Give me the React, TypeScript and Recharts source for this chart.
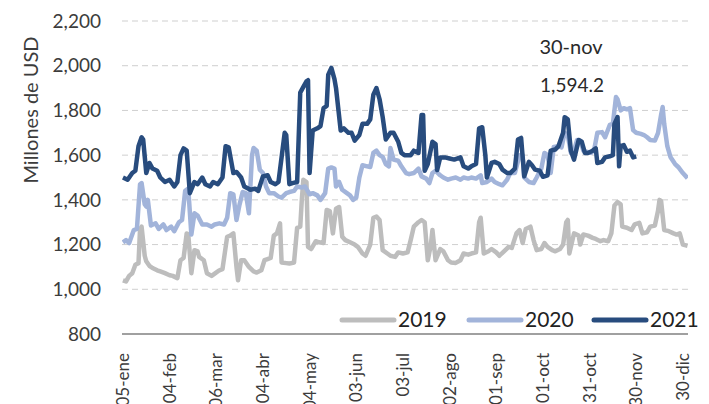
import { LineChart, Line, XAxis, YAxis, CartesianGrid } from 'recharts';

// eje x: días contados desde el 05-ene
const tickDays = [0, 30, 60, 90, 120, 150, 180, 210, 240, 270, 300, 330, 360];
const tickLabels = ['05-ene', '04-feb', '06-mar', '04-abr', '04-may', '03-jun', '03-jul', '02-ago', '01-sep', '01-oct', '31-oct', '30-nov', '30-dic'];
const yTicks = [800, 1000, 1200, 1400, 1600, 1800, 2000, 2200];

const days2019 = [0, 2, 4, 6, 8, 10, 11, 12, 14, 15, 17, 19, 22, 24, 27, 30, 32, 35, 37, 39, 41, 42, 44, 46, 48, 49, 52, 54, 57, 59, 62, 64, 67, 69, 71, 73, 74, 76, 78, 81, 84, 86, 89, 91, 93, 95, 97, 99, 101, 102, 105, 107, 110, 112, 114, 115, 116, 118, 119, 121, 124, 126, 129, 131, 133, 135, 137, 139, 141, 143, 146, 149, 151, 154, 156, 159, 161, 163, 165, 167, 170, 172, 175, 177, 180, 183, 185, 187, 190, 192, 194, 196, 198, 199, 201, 204, 206, 209, 211, 214, 217, 219, 222, 224, 227, 229, 230, 232, 235, 237, 240, 242, 245, 248, 250, 253, 255, 257, 259, 262, 264, 266, 269, 271, 273, 276, 278, 281, 283, 285, 286, 287, 290, 293, 294, 296, 299, 302, 304, 307, 309, 312, 314, 316, 318, 320, 321, 324, 327, 329, 332, 334, 337, 339, 342, 344, 345, 346, 348, 351, 354, 356, 358, 360, 363];
const values2019 = [1040, 1035, 1060, 1072, 1110, 1117, 1270, 1280, 1150, 1125, 1105, 1095, 1085, 1080, 1072, 1063, 1060, 1050, 1130, 1140, 1250, 1245, 1072, 1175, 1170, 1145, 1130, 1072, 1060, 1070, 1085, 1090, 1235, 1240, 1250, 1100, 1040, 1130, 1130, 1100, 1080, 1075, 1085, 1130, 1135, 1140, 1240, 1250, 1295, 1120, 1117, 1115, 1120, 1275, 1280, 1400, 1490, 1480, 1190, 1180, 1215, 1210, 1207, 1355, 1350, 1250, 1360, 1368, 1235, 1220, 1210, 1200, 1190, 1160, 1150, 1200, 1320, 1325, 1310, 1175, 1160, 1150, 1145, 1165, 1160, 1165, 1220, 1280, 1300, 1310, 1300, 1130, 1200, 1265, 1130, 1180, 1170, 1130, 1120, 1118, 1130, 1160, 1155, 1160, 1165, 1300, 1320, 1160, 1170, 1180, 1165, 1150, 1170, 1190, 1185, 1250, 1265, 1207, 1270, 1280, 1220, 1175, 1180, 1207, 1190, 1175, 1170, 1180, 1200, 1300, 1310, 1160, 1250, 1240, 1200, 1245, 1240, 1230, 1225, 1215, 1220, 1215, 1250, 1375, 1390, 1380, 1280, 1275, 1265, 1290, 1297, 1250, 1255, 1280, 1285, 1350, 1400, 1395, 1265, 1260, 1250, 1245, 1250, 1200, 1195];

const days2020 = [0, 2, 4, 7, 9, 11, 12, 14, 15, 16, 18, 21, 23, 26, 28, 31, 33, 36, 38, 40, 42, 44, 46, 48, 51, 54, 57, 59, 62, 65, 67, 69, 71, 73, 75, 77, 79, 81, 83, 84, 86, 88, 90, 92, 94, 97, 100, 102, 105, 107, 110, 112, 115, 117, 120, 122, 125, 127, 130, 132, 134, 136, 137, 139, 141, 144, 146, 148, 150, 152, 154, 157, 159, 161, 163, 165, 167, 169, 171, 172, 174, 177, 179, 182, 184, 187, 190, 192, 195, 197, 199, 201, 204, 206, 209, 211, 214, 217, 219, 222, 224, 227, 230, 231, 234, 237, 239, 242, 244, 247, 249, 252, 255, 257, 258, 261, 264, 266, 269, 271, 273, 275, 277, 280, 282, 284, 286, 288, 290, 292, 294, 296, 298, 301, 303, 305, 308, 310, 313, 315, 317, 318, 320, 322, 324, 326, 328, 330, 333, 335, 337, 339, 342, 344, 346, 347, 348, 350, 352, 355, 357, 360, 363];
const values2020 = [1210, 1220, 1207, 1265, 1270, 1470, 1475, 1380, 1370, 1400, 1285, 1295, 1270, 1290, 1265, 1280, 1260, 1300, 1310, 1440, 1450, 1245, 1340, 1330, 1290, 1290, 1280, 1290, 1295, 1290, 1320, 1430, 1425, 1310, 1380, 1435, 1430, 1340, 1600, 1632, 1620, 1535, 1520, 1460, 1430, 1430, 1415, 1410, 1430, 1435, 1440, 1460, 1455, 1460, 1425, 1430, 1420, 1400, 1430, 1540, 1545, 1540, 1460, 1480, 1445, 1430, 1420, 1400, 1410, 1500, 1555, 1550, 1547, 1610, 1620, 1600, 1592, 1560, 1550, 1632, 1580, 1575, 1550, 1520, 1515, 1520, 1540, 1505, 1495, 1475, 1520, 1530, 1510, 1500, 1490, 1495, 1500, 1490, 1500, 1495, 1500, 1495, 1510, 1475, 1480, 1495, 1480, 1470, 1465, 1490, 1520, 1520, 1600, 1600, 1500, 1480, 1475, 1500, 1540, 1610, 1600, 1520, 1637, 1640, 1635, 1700, 1690, 1610, 1620, 1668, 1665, 1620, 1615, 1610, 1625, 1700, 1703, 1680, 1735, 1740, 1860, 1850, 1800, 1810, 1805, 1810, 1712, 1700, 1695, 1690, 1680, 1668, 1665, 1698, 1780, 1815, 1740, 1640, 1592, 1560, 1547, 1520, 1497];

const days2021 = [0, 3, 6, 8, 10, 12, 13, 15, 17, 19, 22, 24, 27, 30, 33, 35, 37, 39, 41, 43, 46, 48, 51, 53, 56, 58, 61, 64, 66, 68, 71, 73, 76, 78, 82, 85, 87, 90, 93, 95, 98, 100, 102, 104, 105, 107, 109, 112, 114, 116, 118, 119, 120, 122, 125, 127, 129, 131, 132, 134, 136, 137, 140, 142, 145, 147, 149, 152, 154, 157, 159, 161, 163, 165, 167, 169, 172, 174, 177, 179, 181, 185, 187, 190, 192, 193, 194, 196, 199, 201, 202, 204, 207, 210, 213, 217, 219, 222, 224, 227, 229, 231, 233, 234, 237, 239, 242, 244, 247, 249, 252, 254, 256, 258, 261, 263, 265, 268, 270, 273, 275, 278, 280, 283, 284, 286, 288, 290, 293, 295, 297, 299, 302, 304, 305, 308, 310, 313, 315, 316, 318, 319, 320, 322, 324, 326, 328, 330];
const values2021 = [1500, 1490, 1520, 1530, 1640, 1680, 1670, 1520, 1565, 1540, 1530, 1500, 1480, 1490, 1460, 1480, 1600, 1630, 1620, 1430, 1480, 1470, 1500, 1470, 1460, 1480, 1470, 1500, 1640, 1635, 1520, 1525, 1500, 1460, 1445, 1450, 1440, 1505, 1510, 1480, 1470, 1480, 1590, 1700, 1690, 1470, 1475, 1480, 1880, 1905, 1930, 1935, 1520, 1710, 1720, 1730, 1810, 1820, 1960, 1990, 1940, 1900, 1710, 1720, 1700, 1700, 1665, 1690, 1740, 1740, 1760, 1870, 1900, 1850, 1770, 1670, 1700, 1700, 1660, 1610, 1600, 1600, 1620, 1610, 1780, 1780, 1530, 1560, 1660, 1650, 1533, 1590, 1590, 1585, 1580, 1590, 1550, 1540, 1550, 1560, 1720, 1725, 1600, 1500, 1565, 1570, 1560, 1535, 1520, 1520, 1540, 1670, 1677, 1505, 1570, 1555, 1535, 1530, 1503, 1510, 1620, 1625, 1640, 1700, 1770, 1760, 1620, 1580, 1668, 1660, 1610, 1610, 1620, 1630, 1565, 1570, 1590, 1595, 1600, 1740, 1770, 1550, 1640, 1645, 1615, 1620, 1590, 1594.2];

const rows = (days: number[], values: number[]) => days.map((d, i) => ({ d, v: values[i] }));

const series = [
  { name: '2019', color: '#bdbdbd', data: rows(days2019, values2019) },
  { name: '2020', color: '#a2b4da', data: rows(days2020, values2020) },
  { name: '2021', color: '#284c7e', data: rows(days2021, values2021) },
];

// posiciones de la leyenda (x de la muestra)
const legendX = [340, 467, 592];

const FONT = 'Lato, "Open Sans", sans-serif';
const TEXT = '#3c3c3c';

const XTick = ({ x, y, payload }: any) => {
  const i = tickDays.indexOf(payload.value);
  return (
    <text x={x} y={y + 11} dy="0.36em" transform={`rotate(-90 ${x} ${y + 11})`} textAnchor="end"
      fontSize={17} fill={TEXT} fontFamily={FONT}>
      {tickLabels[i]}
    </text>
  );
};

export default function App() {
  return (
    <div style={{ position: 'absolute', left: 0, top: 0, width: 709, height: 404, overflow: 'hidden', background: '#fff' }}>
      <LineChart width={709} height={404} margin={{ top: 21, right: 21, left: 0, bottom: 0 }}>
        <CartesianGrid vertical={false} stroke="#cfcfcf" strokeDasharray="6 4" horizontalValues={[1000, 1200, 1400, 1600, 1800, 2000, 2200]} />
        <XAxis type="number" dataKey="d" domain={[-0.6, 363.3]} ticks={tickDays} allowDataOverflow
          height={70} tick={<XTick />} tickLine={false} axisLine={{ stroke: '#808080', strokeWidth: 1.5 }} interval={0} />
        <YAxis type="number" domain={[800, 2200]} ticks={yTicks} width={122} axisLine={false} tickLine={false}
          tickSize={0} tickMargin={21} interval={0}
          tickFormatter={(v: number) => v.toLocaleString('en-US')}
          tick={{ fontSize: 19, fill: TEXT, fontFamily: FONT }} />
        {series.map((s) => (
          <Line key={s.name} data={s.data} dataKey="v" name={s.name} type="linear" stroke={s.color}
            strokeWidth={4.5} dot={false} activeDot={false} isAnimationActive={false} strokeLinejoin="round" />
        ))}
      </LineChart>
      <svg width={709} height={404} style={{ position: 'absolute', left: 0, top: 0, pointerEvents: 'none' }}>
        <text x={0} y={0} transform="translate(31 110) rotate(-90)" textAnchor="middle" dy="0.35em"
          fontSize={20} fill={TEXT} fontFamily={FONT}>Millones de USD</text>
        <text x={571} y={47} textAnchor="middle" dy="0.35em" fontSize={20} fill="#2a2a2a" fontFamily={FONT}>30-nov</text>
        <text x={572} y={85} textAnchor="middle" dy="0.35em" fontSize={19} fill="#2a2a2a" fontFamily={FONT}>1,594.2</text>
        {series.map((s, i) => (
          <g key={s.name}>
            <line x1={legendX[i] + 2} x2={legendX[i] + 54} y1={320} y2={320} stroke={s.color} strokeWidth={5} strokeLinecap="round" />
            <text x={legendX[i] + 58} y={320} dy="0.35em" fontSize={21} fill="#222" fontFamily={FONT}>{s.name}</text>
          </g>
        ))}
      </svg>
    </div>
  );
}
